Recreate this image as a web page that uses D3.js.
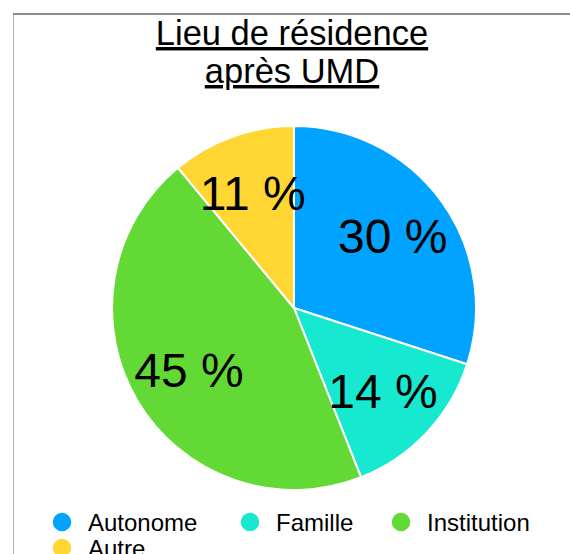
<!DOCTYPE html>
<html>
<head>
<meta charset="utf-8">
<script src="https://cdn.jsdelivr.net/npm/d3@7"></script>
<style>
  html, body { margin: 0; padding: 0; background: #fff; }
  svg { display: block; font-family: "Liberation Sans", Arial, Helvetica, sans-serif; }
</style>
</head>
<body>
<svg id="chart" width="570" height="554"></svg>
<script>
const titleLines = ["Lieu de résidence", "après UMD"];
const categories = ["Autonome", "Famille", "Institution", "Autre"];
const values = [30, 14, 45, 11];
const colors = ["#00a3ff", "#17e8d0", "#63d936", "#ffd632"];

const svg = d3.select("#chart");
const W = 570, H = 554;

// frame
svg.append("line").attr("x1", 13.5).attr("x2", 13.5).attr("y1", 14).attr("y2", H)
  .attr("stroke", "#b4b4b4").attr("stroke-width", 1);
svg.append("line").attr("x1", 13).attr("x2", W).attr("y1", 14).attr("y2", 14)
  .attr("stroke", "#8c8c8c").attr("stroke-width", 2);

// title
const title = svg.append("text").attr("text-anchor", "middle")
  .attr("font-size", 34.5).attr("fill", "#000").attr("text-decoration", "underline");
titleLines.forEach((t, i) => {
  title.append("tspan").attr("x", 292).attr("y", 45 + i * 38).text(t);
});

// pie
const cx = 294, cy = 308, R = 182;
const data = categories.map((c, i) => ({ cat: c, value: values[i], color: colors[i] }));
const pie = d3.pie().value(d => d.value).sort(null);
const arcs = pie(data);
const arc = d3.arc().innerRadius(0).outerRadius(R);
const labelArc = d3.arc().innerRadius(122).outerRadius(122);

const g = svg.append("g").attr("transform", `translate(${cx},${cy})`);
g.selectAll("path").data(arcs).join("path")
  .attr("d", arc)
  .attr("fill", d => d.data.color)
  .attr("stroke", "#fff").attr("stroke-width", 2).attr("stroke-linejoin", "round");

g.selectAll("text.lbl").data(arcs).join("text").attr("class", "lbl")
  .attr("transform", d => `translate(${labelArc.centroid(d)})`)
  .attr("text-anchor", "middle").attr("dy", "0.35em")
  .attr("font-size", 48).attr("fill", "#000")
  .text(d => d.data.value + " %");

// legend
const legendPos = [[62, 522], [250, 522], [401, 522], [62, 548]];
const lg = svg.append("g");
const items = lg.selectAll("g").data(data).join("g")
  .attr("transform", (d, i) => `translate(${legendPos[i][0]},${legendPos[i][1]})`);
items.append("circle").attr("r", 10).attr("fill", d => d.color)
  .attr("stroke", "#fff").attr("stroke-width", 1.5);
items.append("text").attr("x", 26).attr("y", 9)
  .attr("font-size", 24).attr("fill", "#000").text(d => d.cat);
</script>
</body>
</html>
